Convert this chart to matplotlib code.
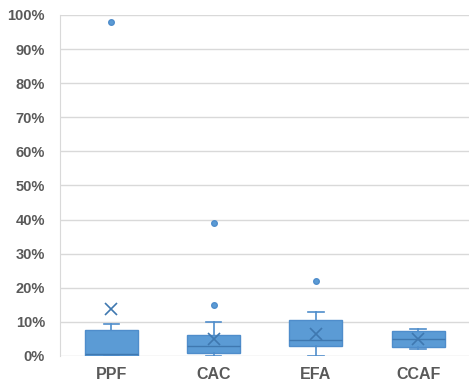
import matplotlib.pyplot as plt
from matplotlib.ticker import PercentFormatter

categories = ['PPF', 'CAC', 'EFA', 'CCAF']
whislo = [0.0, 0.0, 0.0, 2.0]
q1 = [0.0, 1.0, 3.0, 2.7]
med = [0.5, 3.0, 4.6, 5.1]
q3 = [7.6, 6.2, 10.5, 7.4]
whishi = [9.4, 10.0, 13.0, 7.9]
means = [13.8, 4.9, 6.4, 4.9]
fliers = [[98.0], [15.0, 39.0], [22.0], []]

blue = '#5B9BD5'
edge = '#4F8DCB'
gray = '#595959'

plt.rcParams['font.family'] = ['Liberation Sans', 'DejaVu Sans']

fig = plt.figure(figsize=(4.74, 3.83), dpi=100)
ax = fig.add_axes([0.127, 0.0705, 0.863, 0.8905])

stats = []
for i, name in enumerate(categories):
    stats.append({'label': name, 'whislo': whislo[i], 'q1': q1[i], 'med': med[i],
                  'q3': q3[i], 'whishi': whishi[i], 'mean': means[i],
                  'fliers': fliers[i]})

ax.bxp(stats, positions=range(len(categories)), widths=0.52, capwidths=0.15,
       patch_artist=True, showmeans=True,
       boxprops=dict(facecolor=blue, edgecolor=edge, linewidth=1),
       medianprops=dict(color='#3F78B0', linewidth=1),
       whiskerprops=dict(color=edge, linewidth=1.2),
       capprops=dict(color=edge, linewidth=1.2),
       meanprops=dict(marker='x', markeredgecolor='#3F78B0', markersize=8,
                      markeredgewidth=1.2),
       flierprops=dict(marker='o', markerfacecolor=blue, markeredgecolor=edge,
                       markersize=4))

ax.set_xlim(-0.5, len(categories) - 0.5)
ax.set_ylim(0, 100)
ax.set_yticks(range(0, 101, 10))
ax.yaxis.set_major_formatter(PercentFormatter(decimals=0))
ax.grid(True, axis='y', color='#D9D9D9', linewidth=1)
ax.set_axisbelow(True)
for side in ['top', 'right', 'bottom']:
    ax.spines[side].set_visible(False)
ax.spines['left'].set_color('#D9D9D9')
ax.tick_params(axis='both', length=0, colors=gray)
ax.tick_params(axis='y', labelsize=10.5, pad=11)
ax.tick_params(axis='x', labelsize=11.5, pad=8)
for lab in ax.get_xticklabels() + ax.get_yticklabels():
    lab.set_fontweight('bold')

fig.savefig('out.png', dpi=100)
